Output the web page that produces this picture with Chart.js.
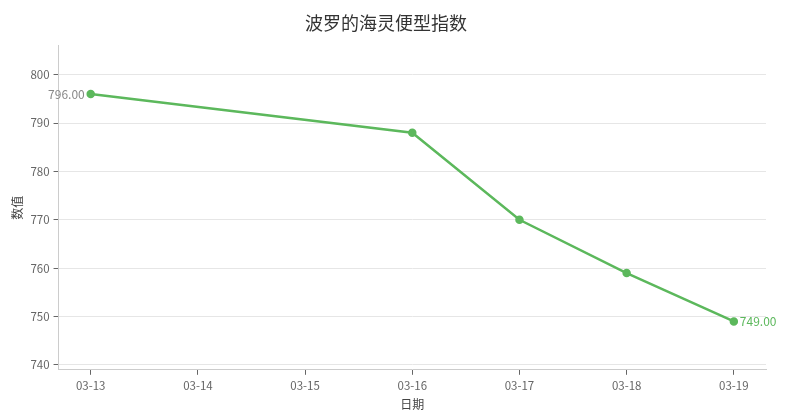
<!DOCTYPE html>
<html>
<head>
<meta charset="utf-8">
<script src="https://cdn.jsdelivr.net/npm/chart.js@4/dist/chart.umd.min.js"></script>
<style>
  html, body { margin: 0; padding: 0; background: #fff; }
  #wrap { width: 792px; height: 420px; }
</style>
</head>
<body>
<div id="wrap"><canvas id="bhsi-chart"></canvas></div>
<script>
const dates = ['03-13', '03-14', '03-15', '03-16', '03-17', '03-18', '03-19'];
const indexValues = [796, null, null, 788, 770, 759, 749];
const yTicks = [740, 750, 760, 770, 780, 790, 800];

const FONT = '"Noto Sans CJK SC", "DejaVu Sans", sans-serif';
const GREEN = '#5cb85c';

// label the first and last point
const endLabels = {
    id: 'endLabels',
    afterDatasetsDraw(chart) {
        const ctx = chart.ctx;
        const pts = chart.getDatasetMeta(0).data;
        const idx = [];
        indexValues.forEach((v, i) => { if (v !== null) idx.push(i); });
        const first = idx[0], last = idx[idx.length - 1];
        ctx.save();
        ctx.font = '12px ' + FONT;
        ctx.textBaseline = 'middle';
        ctx.fillStyle = '#888';
        ctx.textAlign = 'right';
        ctx.fillText(indexValues[first].toFixed(2), pts[first].x - 6, pts[first].y);
        ctx.fillStyle = GREEN;
        ctx.textAlign = 'left';
        ctx.fillText(indexValues[last].toFixed(2), pts[last].x + 6, pts[last].y);
        ctx.restore();
    }
};

new Chart(document.getElementById('bhsi-chart'), {
    type: 'line',
    data: {
        datasets: [{
            label: '波罗的海灵便型指数',
            data: indexValues.map((v, i) => ({ x: i, y: v })),
            borderColor: GREEN,
            backgroundColor: GREEN,
            borderWidth: 2.5,
            pointRadius: 3,
            pointHoverRadius: 3,
            tension: 0,
            spanGaps: true
        }]
    },
    options: {
        responsive: true,
        maintainAspectRatio: false,
        animation: false,
        layout: { padding: { left: 6, right: 26, top: 4, bottom: 4 } },
        plugins: {
            legend: { display: false },
            tooltip: { enabled: false },
            title: {
                display: true,
                text: '波罗的海灵便型指数',
                color: '#333',
                font: { family: FONT, size: 18, weight: 'normal' },
                padding: { top: 8, bottom: 12 }
            }
        },
        scales: {
            x: {
                type: 'linear',
                min: -0.3,
                max: 6.3,
                afterBuildTicks(axis) {
                    axis.ticks = dates.map((d, i) => ({ value: i }));
                },
                ticks: {
                    callback: (v) => dates[v],
                    color: '#666',
                    font: { family: FONT, size: 11.5 },
                    padding: 4,
                    maxRotation: 0
                },
                grid: {
                    drawOnChartArea: false,
                    drawTicks: true,
                    tickLength: 5,
                    tickColor: '#666'
                },
                border: { color: '#ccc', width: 1 },
                title: {
                    display: true,
                    text: '日期',
                    color: '#444',
                    font: { family: FONT, size: 12 },
                    padding: { top: 1 }
                }
            },
            y: {
                min: 739,
                max: 806,
                afterBuildTicks(axis) {
                    axis.ticks = yTicks.map(v => ({ value: v }));
                },
                ticks: {
                    color: '#666',
                    font: { family: FONT, size: 11.5 },
                    padding: 4
                },
                grid: {
                    color: '#e6e6e6',
                    drawTicks: true,
                    tickLength: 5,
                    tickColor: '#666'
                },
                border: { color: '#ccc', width: 1 },
                title: {
                    display: true,
                    text: '数值',
                    color: '#444',
                    font: { family: FONT, size: 12 },
                    padding: { bottom: 2 }
                }
            }
        }
    },
    plugins: [endLabels]
});
</script>
</body>
</html>
